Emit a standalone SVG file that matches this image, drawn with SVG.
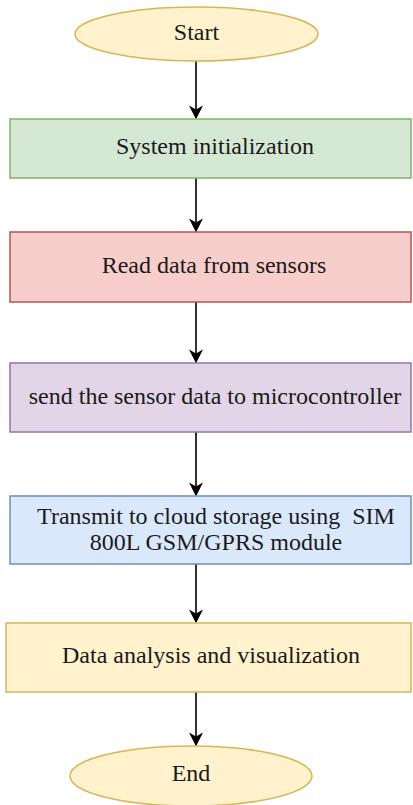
<svg xmlns="http://www.w3.org/2000/svg" width="413" height="805" viewBox="0 0 413 805">
  <style>
    .lbl { font-family: "Liberation Serif", "DejaVu Serif", "Times New Roman", serif; font-size: 24px; fill: #1a1a1a; text-anchor: middle; dominant-baseline: central; white-space: pre; }
    .edge { stroke: #333333; stroke-width: 2; fill: none; marker-end: url(#arrow); }
    .yellow { fill: #fff2cc; stroke: #d6b656; stroke-width: 1.5; }
    .green { fill: #d5e8d4; stroke: #82b366; stroke-width: 1.5; }
    .red { fill: #f8cecc; stroke: #b85450; stroke-width: 1.5; }
    .purple { fill: #e1d5e7; stroke: #9673a6; stroke-width: 1.5; }
    .blue { fill: #dae8fc; stroke: #6c8ebf; stroke-width: 1.5; }
  </style>
  <defs>
    <marker id="arrow" viewBox="0 0 10 10" refX="9" refY="5" markerWidth="7" markerHeight="7" markerUnits="strokeWidth" orient="auto">
      <path d="M0,0 L10,5 L0,10 L3,5 Z" fill="#000000"/>
    </marker>
  </defs>
  <rect width="413" height="805" fill="#ffffff"/>

  <g id="connectors">
    <line class="edge" x1="196" y1="61" x2="196" y2="118"/>
    <line class="edge" x1="196" y1="178" x2="196" y2="231"/>
    <line class="edge" x1="196" y1="302" x2="196" y2="362"/>
    <line class="edge" x1="196" y1="432" x2="196" y2="495"/>
    <line class="edge" x1="196" y1="564" x2="196" y2="622"/>
    <line class="edge" x1="196" y1="692" x2="196" y2="745"/>
  </g>

  <g id="start">
    <ellipse class="yellow" cx="196.5" cy="34" rx="121.5" ry="27"/>
    <text class="lbl" x="196.5" y="32">Start</text>
  </g>

  <g id="init">
    <rect class="green" x="10" y="119" width="401" height="59"/>
    <text class="lbl" x="215" y="146">System initialization</text>
  </g>

  <g id="read">
    <rect class="red" x="10" y="232" width="401" height="70"/>
    <text class="lbl" x="214" y="265">Read data from sensors</text>
  </g>

  <g id="send">
    <rect class="purple" x="10" y="363" width="401" height="69"/>
    <text class="lbl" x="215" y="396">send the sensor data to microcontroller</text>
  </g>

  <g id="transmit">
    <rect class="blue" x="10" y="496" width="401" height="68"/>
    <text class="lbl" x="216" y="516">Transmit to cloud storage using  SIM</text>
    <text class="lbl" x="216" y="542">800L GSM/GPRS module</text>
  </g>

  <g id="analysis">
    <rect class="yellow" x="6" y="623" width="405" height="69"/>
    <text class="lbl" x="211" y="655">Data analysis and visualization</text>
  </g>

  <g id="end">
    <ellipse class="yellow" cx="191" cy="776" rx="121" ry="30"/>
    <text class="lbl" x="191" y="773">End</text>
  </g>
</svg>
